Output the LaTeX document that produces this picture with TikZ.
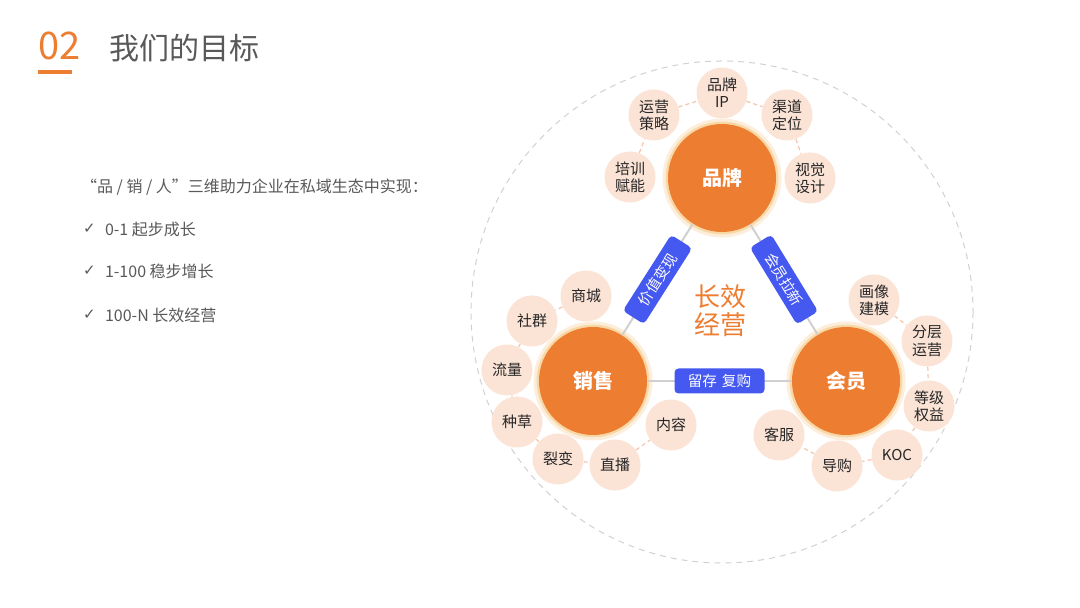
\documentclass[tikz,border=0pt]{standalone}
\usepackage{fontspec}
\setmainfont{Noto Sans CJK SC}
\newfontfamily\symfont{DejaVu Sans}
\usetikzlibrary{calc}
\definecolor{orgmain}{HTML}{ED7D31}
\definecolor{peach}{HTML}{FBE3D6}
\definecolor{peachline}{HTML}{F5C4A8}
\definecolor{glowout}{HTML}{FDEEDB}
\definecolor{glowin}{HTML}{F9D8A8}
\definecolor{tagblue}{HTML}{4558F0}
\definecolor{txtgray}{HTML}{595959}
\definecolor{linkgray}{HTML}{D0D0D0}
\tikzset{x=.5pt,y=-.5pt,every node/.style={text=txtgray},
  hub/.style={circle,fill=orgmain,minimum size=54pt,inner sep=0pt,
    preaction={draw=glowout,line width=5.5pt},preaction={draw=glowin,line width=2.4pt},
    text=white,font=\fontsize{10}{12}\selectfont\bfseries},
  leaf/.style={circle,fill=peach,minimum size=25.5pt,inner sep=0pt,align=center,
    text=black!85,font=\fontsize{7.5}{8.6}\selectfont},
  leaflink/.style={draw=peachline,line width=.6pt,dash pattern=on 2pt off 1.6pt},
  link/.style={draw=linkgray,line width=1pt},
  tag/.style={fill=tagblue,rounded corners=2pt,minimum width=45pt,minimum height=12.5pt,
    inner sep=1pt,text=white,font=\fontsize{7.3}{8}\selectfont},
  itemtxt/.style={anchor=west,font=\fontsize{8}{10}\selectfont},
  tick/.style={anchor=west,font=\symfont\fontsize{7.5}{8}\selectfont}}

\begin{document}
\begin{tikzpicture}
\useasboundingbox[fill=white] (0,0) rectangle (1080,608);
% heading
\node[anchor=west,text=orgmain,font=\fontsize{19}{20}\selectfont] (num) at (31,46) {02};
\draw[orgmain,line width=1.6pt] (38,72)--(72,72);
\node[anchor=west,font=\fontsize{15}{18}\selectfont] (head) at (102,48) {我们的目标};
% left column
\node[itemtxt] (intro) at (74,187) {“品 / 销 / 人”三维助力企业在私域生态中实现：};
\node[tick] (ck1) at (76,229) {✓};
\node[itemtxt] (it1) at (98,229) {0-1 起步成长};
\node[tick] (ck2) at (76,271) {✓};
\node[itemtxt] (it2) at (98,271) {1-100 稳步增长};
\node[tick] (ck3) at (76,315) {✓};
\node[itemtxt] (it3) at (98,315) {100-N 长效经营};
% outer ring
\draw[draw=black!18,line width=.5pt,dash pattern=on 3pt off 2.5pt] (722,312) circle (251);
% three hubs
\node[hub] (brand) at (722,178) {品牌};
\node[hub] (sale) at (593,381) {销售};
\node[hub] (member) at (846,381) {会员};
\draw[link] (sale)--node[tag,sloped]{价值变现}(brand);
\draw[link] (brand)--node[tag,sloped]{会员拉新}(member);
\draw[link] (sale)--node[tag]{留存\,\,复购}(member);
\node[text=orgmain,align=center,font=\fontsize{13}{14}\selectfont] (core) at (720,311) {长效\\经营};
% brand leaves
\node[leaf] (b1) at (630,177) {培训\\赋能};
\node[leaf] (b2) at (654,115) {运营\\策略};
\node[leaf] (b3) at (722,93) {品牌\\IP};
\node[leaf] (b4) at (787,115) {渠道\\定位};
\node[leaf] (b5) at (810,178) {视觉\\设计};
% sale leaves
\node[leaf] (s1) at (586,296) {商城};
\node[leaf] (s2) at (532,321) {社群};
\node[leaf] (s3) at (507,370) {流量};
\node[leaf] (s4) at (517,422) {种草};
\node[leaf] (s5) at (558,459) {裂变};
\node[leaf] (s6) at (615,465) {直播};
\node[leaf] (s7) at (671,425) {内容};
% member leaves
\node[leaf] (m1) at (874,300) {画像\\建模};
\node[leaf] (m2) at (927,341) {分层\\运营};
\node[leaf] (m3) at (929,406) {等级\\权益};
\node[leaf] (m4) at (897,455) {KOC};
\node[leaf] (m5) at (837,466) {导购};
\node[leaf] (m6) at (779,435) {客服};
\foreach \a/\b in {b1/b2,b2/b3,b3/b4,b4/b5,s1/s2,s2/s3,s3/s4,s4/s5,s5/s6,s6/s7,m1/m2,m2/m3,m3/m4,m4/m5,m5/m6}
  \draw[leaflink] (\a)--(\b);
\end{tikzpicture}
\end{document}
